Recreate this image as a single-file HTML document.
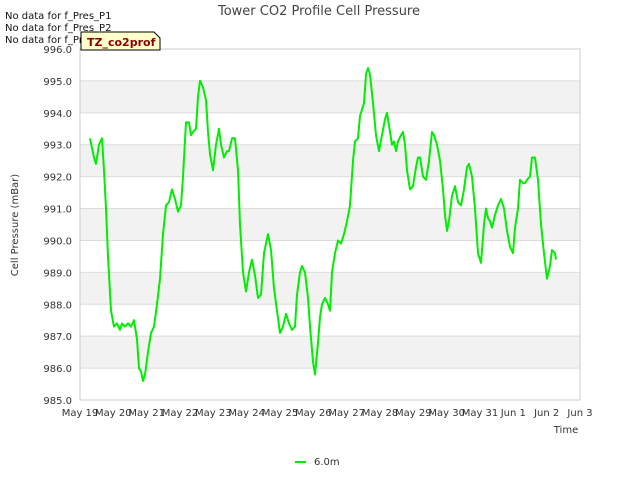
<!DOCTYPE html>
<html><head><meta charset="utf-8"><style>
body{margin:0;background:#fff;width:640px;height:480px;overflow:hidden;font-family:"Liberation Sans","DejaVu Sans",sans-serif}
svg text{font-family:"DejaVu Sans","Liberation Sans",sans-serif}
</style></head><body>
<svg id="c" width="640" height="480"></svg>
<script>
const tickLabels=["May 19","May 20","May 21","May 22","May 23","May 24","May 25","May 26","May 27","May 28","May 29","May 30","May 31","Jun 1","Jun 2","Jun 3"];
const yTicks=[985,986,987,988,989,990,991,992,993,994,995,996];
const days=[0.30,0.42,0.48,0.57,0.66,0.72,0.78,0.84,0.93,1.02,1.11,1.20,1.26,1.35,1.44,1.53,1.62,1.71,1.77,1.83,1.89,1.95,2.04,2.13,2.22,2.31,2.40,2.49,2.58,2.67,2.76,2.85,2.94,3.03,3.09,3.18,3.27,3.33,3.39,3.48,3.54,3.60,3.69,3.78,3.84,3.90,3.99,4.08,4.17,4.23,4.32,4.41,4.47,4.56,4.65,4.74,4.80,4.89,4.98,5.07,5.16,5.25,5.34,5.43,5.52,5.64,5.73,5.82,5.91,6.00,6.09,6.18,6.27,6.36,6.45,6.51,6.60,6.66,6.75,6.84,6.90,6.99,7.05,7.14,7.20,7.26,7.35,7.44,7.50,7.56,7.65,7.74,7.83,7.92,8.01,8.10,8.19,8.25,8.34,8.40,8.46,8.52,8.58,8.64,8.70,8.79,8.88,8.97,9.06,9.15,9.21,9.27,9.36,9.42,9.48,9.54,9.63,9.69,9.75,9.81,9.90,9.99,10.08,10.14,10.20,10.29,10.38,10.47,10.56,10.62,10.71,10.80,10.89,10.95,11.01,11.07,11.16,11.25,11.34,11.43,11.52,11.61,11.67,11.76,11.85,11.94,12.03,12.12,12.18,12.24,12.30,12.36,12.45,12.54,12.63,12.72,12.81,12.90,12.99,13.05,13.14,13.20,13.29,13.35,13.41,13.50,13.56,13.65,13.74,13.83,13.92,14.01,14.10,14.16,14.25,14.28];
const pressure=[993.2,992.6,992.4,993.0,993.2,992.2,991,989.5,987.8,987.3,987.4,987.2,987.4,987.3,987.4,987.3,987.5,986.9,986.0,985.9,985.6,985.8,986.5,987.1,987.3,988.0,988.8,990.2,991.1,991.2,991.6,991.3,990.9,991.1,992.0,993.7,993.7,993.3,993.4,993.5,994.5,995.0,994.8,994.4,993.4,992.7,992.2,993.0,993.5,993.0,992.6,992.8,992.8,993.2,993.2,992.2,990.5,989.0,988.4,989.0,989.4,988.9,988.2,988.3,989.6,990.2,989.7,988.5,987.8,987.1,987.3,987.7,987.4,987.2,987.3,988.3,989.0,989.2,989.0,988.2,987.3,986.2,985.8,986.8,987.6,988.0,988.2,988.0,987.8,989.0,989.6,990.0,989.9,990.2,990.6,991.1,992.5,993.1,993.2,993.9,994.1,994.3,995.2,995.4,995.2,994.3,993.3,992.8,993.3,993.8,994.0,993.6,993.0,993.1,992.8,993.1,993.3,993.4,993.0,992.2,991.6,991.7,992.3,992.6,992.6,992.0,991.9,992.5,993.4,993.3,993.0,992.5,991.6,990.8,990.3,990.6,991.4,991.7,991.2,991.1,991.6,992.3,992.4,992.0,991.0,989.6,989.3,990.5,991.0,990.7,990.6,990.4,990.8,991.1,991.3,991.0,990.3,989.8,989.6,990.4,991.0,991.9,991.8,991.8,991.9,992.0,992.6,992.6,991.9,990.5,989.6,988.8,989.2,989.7,989.6,989.4];
const L=80,R=580,T=49,B=400;
const xs=d=>L+(R-L)*d/15;
const ys=v=>B-(B-T)*(v-985)/11;
const NS="http://www.w3.org/2000/svg",svg=document.getElementById('c');
function mk(t,a,txt){const e=document.createElementNS(NS,t);for(const k in a)e.setAttribute(k,a[k]);if(txt!==undefined)e.textContent=txt;svg.appendChild(e);return e;}
// bands
for(let i=0;i<yTicks.length-1;i++){ if(i%2===1){const b=mk('rect',{x:L,y:ys(yTicks[i+1]),width:R-L,height:ys(yTicks[i])-ys(yTicks[i+1]),fill:'#f2f2f2'});

}}
yTicks.forEach(v=>{const g=mk('line',{x1:L,x2:R,y1:ys(v),y2:ys(v),stroke:'#dcdcdc','stroke-width':1});


const t=mk('text',{x:L-8,y:ys(v)+4,'text-anchor':'end','font-size':10,fill:'#333'},v.toFixed(1));

});
const fr=mk('rect',{x:L,y:T,width:R-L,height:B-T,fill:'none',stroke:'#cccccc'});


tickLabels.forEach((s,i)=>{const t=mk('text',{x:xs(i),y:B+16,'text-anchor':'middle','font-size':10,fill:'#333'},s);

});
const pts=days.map((d,i)=>xs(d).toFixed(1)+','+ys(pressure[i]).toFixed(1)).join(' ');
const ln=mk('polyline',{points:pts,fill:'none',stroke:'#00ee00','stroke-width':2,'stroke-linejoin':'round'});


</script>
<svg width="640" height="480" style="position:absolute;left:0;top:0">
<text x="319" y="15" text-anchor="middle" font-size="13" fill="#444">Tower CO2 Profile Cell Pressure</text>
<text x="5" y="19" font-size="10" fill="#111">No data for f_Pres_P1</text>
<text x="5" y="31" font-size="10" fill="#111">No data for f_Pres_P2</text>
<text x="5" y="43" font-size="10" fill="#111">No data for f_Pres_P4</text>
<g><polygon points="81,32 154,32 160,38 160,50 81,50" fill="#ffffcc" stroke="#000"/>
<text x="87" y="46" font-size="11" font-weight="bold" fill="#8b0000">TZ_co2prof</text></g>
<text transform="translate(18,225) rotate(-90)" text-anchor="middle" font-size="10" fill="#333">Cell Pressure (mBar)</text>
<text x="566" y="433" text-anchor="middle" font-size="10" fill="#333">Time</text>
<g><line x1="295" x2="306" y1="462" y2="462" stroke="#00ee00" stroke-width="2"/>
<text x="314" y="465" font-size="10" fill="#333">6.0m</text></g>
</svg>
</body></html>
